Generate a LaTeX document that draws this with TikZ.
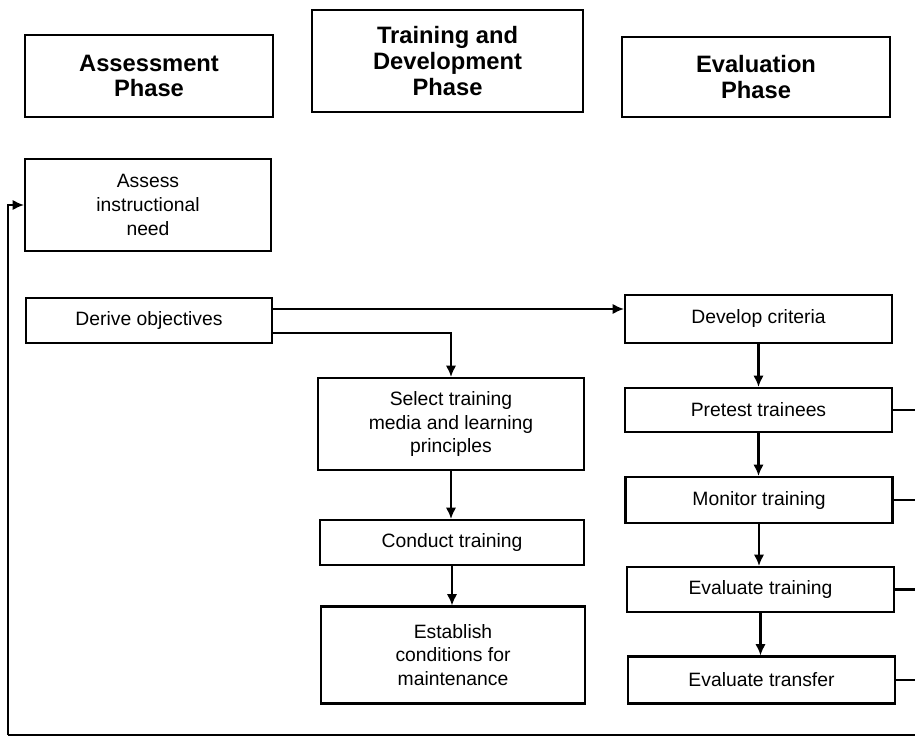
\documentclass[tikz,border=0pt]{standalone}
\usepackage{fontspec}
\setmainfont{Liberation Sans}
\usepackage{tikz}
\usetikzlibrary{positioning,arrows.meta,calc}

\begin{document}
\begin{tikzpicture}[
    x=0.02cm, y=-0.02cm,
    phase/.style={draw, line width=1.2pt, align=center,
                  font=\bfseries\fontsize{13.5}{14.7}\selectfont},
    task/.style={draw, line width=1.2pt, align=center,
                 font=\fontsize{11}{13.6}\selectfont},
    flow/.style={->, line width=1.2pt, >={Latex[length=6.5pt,width=6pt]}},
    back/.style={line width=1.2pt},
]
\useasboundingbox (0,0) rectangle (915,736);

% ── Phase headers ──
\node[phase, minimum width=4.96cm, minimum height=1.64cm]
    (asmph) at (149,76) {Assessment\\Phase};
\node[phase, minimum width=5.42cm, minimum height=2.04cm]
    (trnph) at (447.5,61) {Training and\\Development\\Phase};
\node[phase, minimum width=5.36cm, minimum height=1.6cm]
    (evph) at (756,77) {Evaluation\\Phase};

% ── Assessment column ──
\node[task, minimum width=4.92cm, minimum height=1.84cm]
    (assess) at (148,205) {Assess\\instructional\\need};
\node[task, minimum width=4.92cm, minimum height=0.9cm]
    (derive) at (149,320.5) {Derive objectives};

% ── Training and development column ──
\node[task, minimum width=5.32cm, minimum height=1.84cm]
    (select) at (451,424) {Select training\\media and learning\\principles};
\node[task, minimum width=5.28cm, minimum height=0.9cm]
    (conduct) at (452,542.5) {Conduct training};
\node[task, minimum width=5.28cm, minimum height=1.94cm]
    (establish) at (453,655) {Establish\\conditions for\\maintenance};

% ── Evaluation column ──
\node[task, minimum width=5.34cm, minimum height=0.96cm]
    (crit) at (758.5,319) {Develop criteria};
\node[task, minimum width=5.34cm, minimum height=0.88cm]
    (pretest) at (758.5,410) {Pretest trainees};
\node[task, minimum width=5.34cm, minimum height=0.92cm]
    (monitor) at (759,500) {Monitor training};
\node[task, minimum width=5.34cm, minimum height=0.9cm]
    (evtrain) at (760.5,589.5) {Evaluate training};
\node[task, minimum width=5.34cm, minimum height=0.94cm]
    (evtrans) at (761.5,680) {Evaluate transfer};

% ── Forward flow ──
\draw[flow] ([yshift=0.23cm]derive.east) -- ([yshift=0.23cm]derive.east -| crit.west);
\draw[flow] ([yshift=-0.25cm]derive.east) -| (select.north);
\foreach \a/\b in {select/conduct,conduct/establish,crit/pretest,
                   pretest/monitor,monitor/evtrain,evtrain/evtrans}
    \draw[flow] (\a.south) -- (\a.south |- \b.north);

% ── Feedback loop ──
\coordinate (edge) at (915,0);
\coordinate (br) at (915,735);
\coordinate (bl) at (8,735);
\foreach \n in {pretest,monitor,evtrain,evtrans}
    \draw[back] (\n.east) -- (\n.east -| edge);
\draw[back] (br) -- (bl);
\draw[flow] (bl) |- (assess.west);

\end{tikzpicture}
\end{document}
